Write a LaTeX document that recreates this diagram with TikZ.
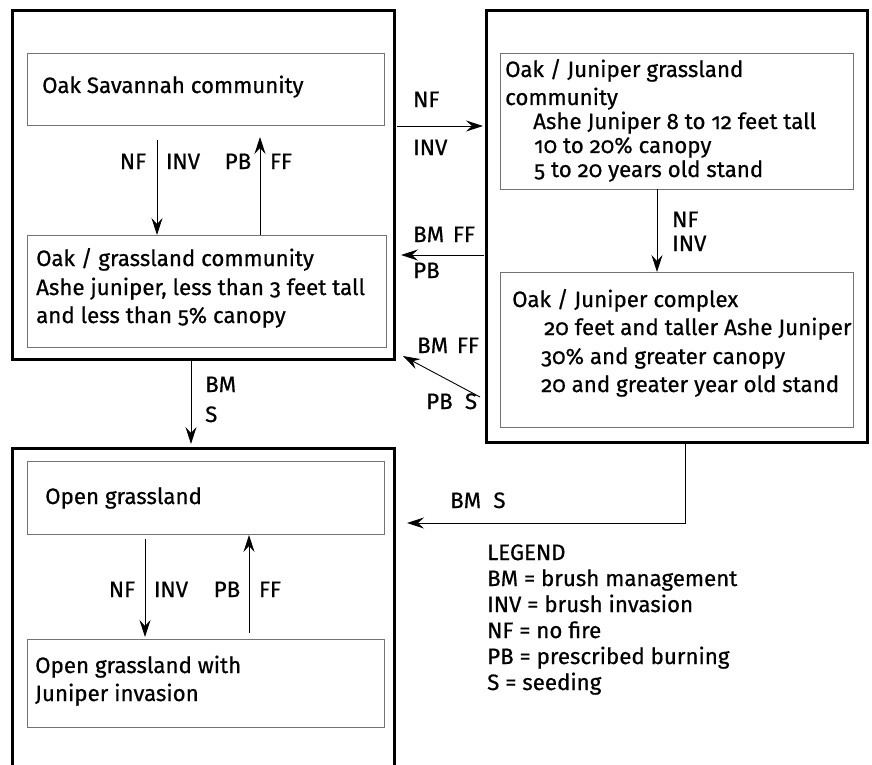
\documentclass[tikz,border=0pt]{standalone}
\usepackage{fontspec}
\setmainfont{Fira Sans}[Numbers=OldStyle,FakeBold=0.6]
\usetikzlibrary{arrows.meta}
\begin{document}
\begin{tikzpicture}[x=1pt,y=-1pt,
  outerbox/.style={draw=black,line width=3pt,outer sep=0pt,inner sep=0pt,anchor=north west},
  innerbox/.style={draw=black!55,line width=1pt,outer sep=0pt,inner sep=0pt,anchor=north west},
  txt/.style={inner sep=0pt,anchor=base west,font=\fontsize{22.3}{26}\selectfont},
  ctxt/.style={inner sep=0pt,anchor=base,font=\fontsize{22.3}{26}\selectfont},
  arr/.style={draw=black,line width=0.9pt,-{Stealth[length=17pt,width=11pt,inset=6pt]}}]
\clip (0,0) rectangle (872,765);
\fill[white] (0,0) rectangle (872,765);
% outer boxes
\node[outerbox,minimum width=382pt,minimum height=348pt] (A) at (12,11) {};
\node[outerbox,minimum width=381pt,minimum height=431pt] (B) at (486,11) {};
\node[outerbox,minimum width=382pt,minimum height=420pt] (C) at (12,448) {};
% inner boxes
\node[innerbox,minimum width=357pt,minimum height=72pt] (a1) at (27,54) {};
\node[innerbox,minimum width=359pt,minimum height=112pt] (a2) at (27,235) {};
\node[innerbox,minimum width=353pt,minimum height=135pt] (b1) at (500,54) {};
\node[innerbox,minimum width=353pt,minimum height=155pt] (b2) at (500,272) {};
\node[innerbox,minimum width=357pt,minimum height=73pt] (c1) at (27,461) {};
\node[innerbox,minimum width=357pt,minimum height=88pt] (c2) at (27,639) {};
% box texts
\node[txt] (a1t) at (42,93) {Oak Savannah community};
\node[txt] (a2t1) at (36,266) {Oak / grassland community};
\node[txt] (a2t2) at (36,295) {Ashe juniper, less than 3 feet tall};
\node[txt] (a2t3) at (36,323) {and less than 5\% canopy};
\node[txt] (b1t1) at (505,77) {Oak / Juniper grassland};
\node[txt] (b1t2) at (505,105) {community};
\node[txt] (b1t3) at (533,129) {Ashe Juniper 8 to 12 feet tall};
\node[txt] (b1t4) at (534,153) {10 to 20\% canopy};
\node[txt] (b1t5) at (534,177) {5 to 20 years old stand};
\node[txt] (b2t1) at (512,307) {Oak / Juniper complex};
\node[txt] (b2t2) at (544,335) {20 feet and taller Ashe Juniper};
\node[txt] (b2t3) at (541,364) {30\% and greater canopy};
\node[txt] (b2t4) at (541,392) {20 and greater year old stand};
\node[txt] (c1t) at (45,504) {Open grassland};
\node[txt] (c2t1) at (35,673) {Open grassland with};
\node[txt] (c2t2) at (35,701) {Juniper invasion};
% coordinates for connectors
\coordinate (xa) at (157,0);
\coordinate (xb) at (260,0);
\coordinate (ya) at (0,126);
\coordinate (yb) at (0,255);
\coordinate (xs) at (191,0);
\coordinate (xd) at (657,0);
\coordinate (xc) at (685,0);
\coordinate (yc) at (0,523);
\coordinate (xe) at (145,0);
\coordinate (xf) at (249,0);
\coordinate (d1) at (480,397);
\coordinate (d2) at (403,356);
% connectors
\draw[arr,shorten <=14pt] (a1.south -| xa) -- (a2.north -| xa);
\draw[arr,shorten >=11pt] (a2.north -| xb) -- (a1.south -| xb);
\draw[arr,shorten <=3pt,shorten >=3pt] (A.east |- ya) -- (B.west |- ya);
\draw[arr,shorten <=2pt,shorten >=7pt] (B.west |- yb) -- (A.east |- yb);
\draw[arr] (d1) -- (d2);
\draw[arr,shorten >=4pt] (A.south -| xs) -- (C.north -| xs);
\draw[arr] (b1.south -| xd) -- (b2.north -| xd);
\draw[arr,shorten >=13pt] (B.south -| xc) |- (C.east |- yc);
\draw[arr,shorten <=5pt,shorten >=2pt] (c1.south -| xe) -- (c2.north -| xe);
\draw[arr,shorten <=6pt,shorten >=1pt] (c2.north -| xf) -- (c1.south -| xf);
% labels
\node[ctxt] (l1) at (133,169) {NF};
\node[ctxt] (l2) at (183,169) {INV};
\node[ctxt] (l3) at (238,169) {PB};
\node[ctxt] (l4) at (281,169) {FF};
\node[txt] (l5) at (413,107) {NF};
\node[txt] (l6) at (413,155) {INV};
\node[txt] (l7) at (413,242) {BM\hspace{0.4em}FF};
\node[txt] (l8) at (413,278) {PB};
\node[txt] (l9) at (417,353) {BM\hspace{0.4em}FF};
\node[txt] (l10) at (426,409) {PB\hspace{0.55em}S};
\node[txt] (l11) at (205,392) {BM};
\node[txt] (l12) at (205,422) {S};
\node[txt] (l13) at (672,227) {NF};
\node[txt] (l14) at (672,251) {INV};
\node[txt] (l15) at (450,508) {BM\hspace{0.55em}S};
\node[ctxt] (l16) at (122,597) {NF};
\node[ctxt] (l17) at (171,597) {INV};
\node[ctxt] (l18) at (227,597) {PB};
\node[ctxt] (l19) at (270,597) {FF};
% legend
\node[txt] (g0) at (487,560) {LEGEND};
\node[txt] (g1) at (487,586) {BM = brush management};
\node[txt] (g2) at (487,612) {INV = brush invasion};
\node[txt] (g3) at (487,638) {NF = no fire};
\node[txt] (g4) at (487,664) {PB = prescribed burning};
\node[txt] (g5) at (487,690) {S = seeding};
\end{tikzpicture}
\end{document}
